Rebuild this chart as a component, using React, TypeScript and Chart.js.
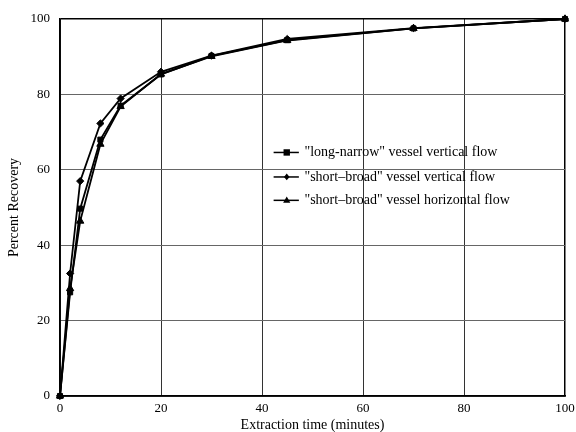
import React, { useEffect, useRef } from "react";
import { Chart, registerables } from "chart.js";

Chart.register(...registerables);

const times = [0, 2, 4, 8, 12, 20, 30, 45, 70, 100];
const longNarrowVertical = [0, 27.5, 49.7, 68, 77, 85.3, 90.2, 94.4, 97.5, 100];
const shortBroadVertical = [0, 32.5, 57, 72.3, 78.9, 86, 90.3, 94.7, 97.6, 100];
const shortBroadHorizontal = [0, 28.5, 46.4, 66.8, 76.8, 85.4, 90.1, 94.3, 97.5, 100];
const seriesLabels = [
  '"long-narrow" vessel vertical flow',
  '"short\u2013broad" vessel vertical flow',
  '"short\u2013broad" vessel horizontal flow',
];
const markerStyles = ["rect", "rectRot", "triangle"];
const xTicks = [0, 20, 40, 60, 80, 100];
const yTicks = [0, 20, 40, 60, 80, 100];

const FONT = "'Liberation Serif', 'DejaVu Serif', serif";

function drawMarker(ctx: CanvasRenderingContext2D, style: string, x: number, y: number, r: number) {
  ctx.beginPath();
  if (style === "rect") {
    ctx.rect(x - r, y - r, 2 * r, 2 * r);
  } else if (style === "rectRot") {
    ctx.moveTo(x, y - r * 1.2);
    ctx.lineTo(x + r, y);
    ctx.lineTo(x, y + r * 1.2);
    ctx.lineTo(x - r, y);
    ctx.closePath();
  } else {
    ctx.moveTo(x, y - r * 1.1);
    ctx.lineTo(x + r, y + r * 0.7);
    ctx.lineTo(x - r, y + r * 0.7);
    ctx.closePath();
  }
  ctx.fill();
}

export default function App() {
  const ref = useRef<HTMLCanvasElement>(null);

  useEffect(() => {
    document.body.style.margin = "0";
    const canvas = ref.current!;
    const seriesData = [longNarrowVertical, shortBroadVertical, shortBroadHorizontal];
    const radii = [3.6, 3.6, 4.2];

    const legendPlugin = {
      id: "insideLegend",
      afterDraw(chart: any) {
        const { ctx, scales } = chart;
        const xs = scales.x;
        const ys = scales.y;
        const lineX0 = xs.getPixelForValue(42.3);
        const lineX1 = xs.getPixelForValue(47.3);
        const markX = xs.getPixelForValue(44.9);
        const textX = xs.getPixelForValue(48.4);
        const rowsY = [64.6, 58.1, 51.9];
        const legendR = [3.2, 2.8, 3.6];
        ctx.save();
        ctx.font = `14px ${FONT}`;
        ctx.textBaseline = "middle";
        ctx.fillStyle = "#000";
        ctx.strokeStyle = "#000";
        seriesLabels.forEach((label, i) => {
          const y = ys.getPixelForValue(rowsY[i]);
          ctx.lineWidth = 1.5;
          ctx.beginPath();
          ctx.moveTo(lineX0, y);
          ctx.lineTo(lineX1, y);
          ctx.stroke();
          drawMarker(ctx, markerStyles[i], markX, y, legendR[i]);
          ctx.fillText(label, textX, y);
        });
        ctx.restore();
      },
    };

    const chart = new Chart(canvas, {
      type: "line",
      data: {
        datasets: [2, 1, 0].map((i) => ({
          label: seriesLabels[i],
          data: times.map((t, k) => ({ x: t, y: seriesData[i][k] })),
          borderColor: "#000",
          backgroundColor: "#000",
          borderWidth: 1.8,
          pointStyle: markerStyles[i] as any,
          pointRadius: radii[i],
          pointBorderWidth: 1,
          pointBorderColor: "#000",
          pointBackgroundColor: "#000",
          tension: 0,
          clip: 6 as any,
        })),
      },
      options: {
        responsive: false,
        animation: false,
        layout: { padding: { top: 19, right: 11, left: 0, bottom: 0 } },
        plugins: {
          legend: { display: false },
          tooltip: { enabled: false },
        },
        scales: {
          x: {
            type: "linear",
            min: 0,
            max: 100,
            afterBuildTicks: (s: any) => {
              s.ticks = xTicks.map((v) => ({ value: v }));
            },
            afterFit: (s: any) => {
              s.height = 36;
              s.paddingRight = 0;
              s.paddingLeft = 0;
            },
            ticks: {
              color: "#000",
              font: { family: FONT, size: 13 },
              padding: 5,
              maxRotation: 0,
            },
            grid: {
              color: (c: any) => (c.tick && c.tick.value === 100 ? "#000" : "#333"),
              lineWidth: (c: any) => (c.tick && c.tick.value === 100 ? 1.5 : 1),
              drawTicks: false,
            },
            border: { color: "#000", width: 1.8 },
            title: {
              display: true,
              text: "Extraction time (minutes)",
              color: "#000",
              font: { family: FONT, size: 14 },
              padding: { top: 0, bottom: -2 },
            },
          },
          y: {
            type: "linear",
            min: 0,
            max: 100,
            afterBuildTicks: (s: any) => {
              s.ticks = yTicks.map((v) => ({ value: v }));
            },
            afterFit: (s: any) => {
              s.width = 60;
            },
            ticks: {
              color: "#000",
              font: { family: FONT, size: 13 },
              padding: 10,
            },
            grid: {
              color: (c: any) => (c.tick && c.tick.value === 100 ? "#000" : "#666"),
              lineWidth: (c: any) => (c.tick && c.tick.value === 100 ? 1.5 : 1),
              drawTicks: false,
            },
            border: { color: "#000", width: 1.8 },
            title: {
              display: true,
              text: "Percent Recovery",
              color: "#000",
              font: { family: FONT, size: 14 },
              padding: { top: 5.5, bottom: 0 },
            },
          },
        },
      },
      plugins: [legendPlugin],
    });
    return () => chart.destroy();
  }, []);

  return (
    <div style={{ width: 576, height: 432, background: "#fff" }}>
      <canvas ref={ref} width={576} height={432} style={{ display: "block" }} />
    </div>
  );
}
